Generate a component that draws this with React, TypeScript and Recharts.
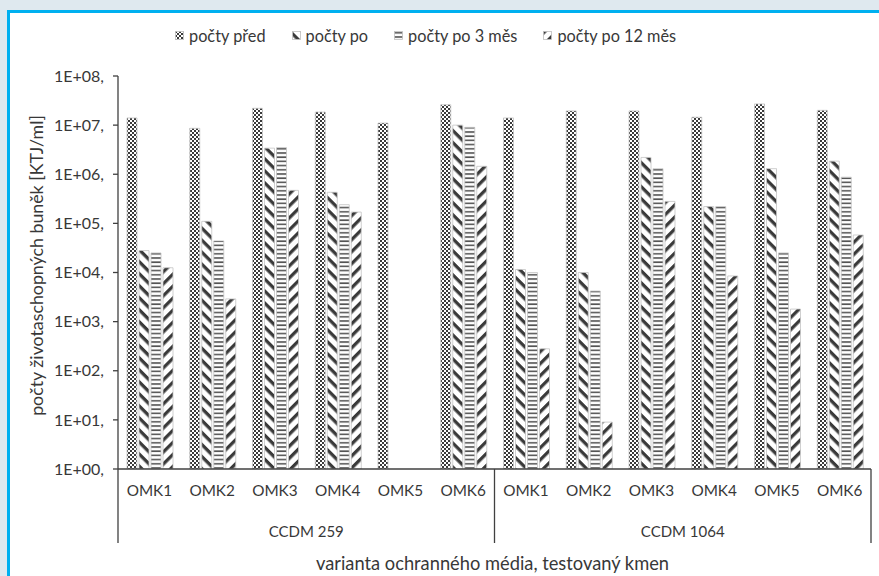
import React from 'react';
import { BarChart, Bar, XAxis, YAxis, Legend } from 'recharts';

// ---- data ----
const categories = ['OMK1', 'OMK2', 'OMK3', 'OMK4', 'OMK5', 'OMK6', 'OMK1', 'OMK2', 'OMK3', 'OMK4', 'OMK5', 'OMK6'];
const groups = ['CCDM 259', 'CCDM 259', 'CCDM 259', 'CCDM 259', 'CCDM 259', 'CCDM 259', 'CCDM 1064', 'CCDM 1064', 'CCDM 1064', 'CCDM 1064', 'CCDM 1064', 'CCDM 1064'];
const pocetPred = [1.4e7, 8.6e6, 2.2e7, 1.85e7, 1.1e7, 2.6e7, 1.4e7, 1.95e7, 1.95e7, 1.45e7, 2.7e7, 2.0e7];
const pocetPo = [2.8e4, 1.1e5, 3.4e6, 4.3e5, null, 1.0e7, 1.15e4, 1.0e4, 2.2e6, 2.2e5, 1.3e6, 1.85e6];
const pocetPo3 = [2.5e4, 4.4e4, 3.5e6, 2.4e5, null, 9.0e6, 1.0e4, 4.2e3, 1.3e6, 2.2e5, 2.5e4, 8.7e5];
const pocetPo12 = [1.25e4, 2.9e3, 4.7e5, 1.7e5, null, 1.45e6, 2.8e2, 9, 2.8e5, 8.5e3, 1.8e3, 5.8e4];
const yTicks = [1, 10, 100, 1e3, 1e4, 1e5, 1e6, 1e7, 1e8];
const yTickLabels = ['1E+00,', '1E+01,', '1E+02,', '1E+03,', '1E+04,', '1E+05,', '1E+06,', '1E+07,', '1E+08,'];
const seriesNames = ['počty před', 'počty po', 'počty po 3 měs', 'počty po 12 měs'];
const xTitle = 'varianta ochranného média, testovaný kmen';
const yTitle = 'počty životaschopných buněk [KTJ/ml]';

const rows = categories.map((c, i) => ({
  omk: c,
  group: groups[i],
  pred: pocetPred[i],
  po: pocetPo[i],
  po3: pocetPo3[i],
  po12: pocetPo12[i],
}));

const seriesKeys = ['pred', 'po', 'po3', 'po12'];
const patternIds = ['patChecker', 'patDown', 'patHoriz', 'patUp'];

// ---- layout ----
const W = 879;
const H = 576;
const MARGIN = { top: 76, right: 8, bottom: 0, left: 0 };
const Y_W = 118;
const X_H = 107;
const PLOT_W = W - MARGIN.left - MARGIN.right - Y_W;
const BAND = PLOT_W / categories.length;
const FONT = 'Lato, "Open Sans", sans-serif';
const TXT = '#383838';
const AXIS = '#404040';
const INK = '#3a3a3a';

const PatternDefs = () => (
  <defs>
    <pattern id="patChecker" patternUnits="userSpaceOnUse" width="4" height="4">
      <rect x="0" y="0" width="4" height="4" fill="#ffffff" />
      <rect x="0" y="0" width="2" height="2" fill={INK} />
      <rect x="2" y="2" width="2" height="2" fill={INK} />
    </pattern>
    <pattern id="patDown" patternUnits="userSpaceOnUse" width="8.5" height="8.5" patternTransform="rotate(45)">
      <rect x="0" y="0" width="8.5" height="8.5" fill="#ffffff" />
      <rect x="0" y="0" width="8.5" height="3.3" fill={INK} />
    </pattern>
    <pattern id="patHoriz" patternUnits="userSpaceOnUse" width="4" height="4.2">
      <rect x="0" y="0" width="4" height="4.2" fill="#ffffff" />
      <rect x="0" y="1" width="4" height="1.6" fill="#555555" />
    </pattern>
    <pattern id="patUp" patternUnits="userSpaceOnUse" width="8.5" height="8.5" patternTransform="rotate(-45)">
      <rect x="0" y="0" width="8.5" height="8.5" fill="#ffffff" />
      <rect x="0" y="0" width="8.5" height="3.3" fill={INK} />
    </pattern>
  </defs>
);

const CategoryTick = (props: any) => {
  const { x, y, payload, index } = props;
  const i = typeof index === 'number' ? index : payload.index;
  const half = BAND / 2;
  const lineProps = { stroke: AXIS, strokeWidth: 1.3 };
  return (
    <g>
      <text x={x} y={y + 21} textAnchor="middle" dominantBaseline="central" fill={TXT} fontSize={15.3} fontFamily={FONT}>
        {payload.value}
      </text>
      {i % 6 === 0 && <line x1={x - half} x2={x - half} y1={y} y2={y + 74} {...lineProps} />}
      {i === rows.length - 1 && <line x1={x + half} x2={x + half} y1={y} y2={y + 74} {...lineProps} />}
      {i % 6 === 2 && (
        <text x={x + half} y={y + 62} textAnchor="middle" dominantBaseline="central" fill={TXT} fontSize={15} fontFamily={FONT}>
          {rows[i].group}
        </text>
      )}
    </g>
  );
};

const LegendContent = () => (
  <div style={{ display: 'flex', alignItems: 'center', fontFamily: FONT, fontSize: 16.3, color: TXT, whiteSpace: 'nowrap' }}>
    {seriesNames.map((n, i) => (
      <div key={n} style={{ display: 'flex', alignItems: 'center', marginRight: 26 }}>
        <svg width={9} height={9} style={{ marginRight: 5 }}>
          <rect x={0.5} y={0.5} width={8} height={8} fill={`url(#${patternIds[i]})`} stroke="#bfbfbf" strokeWidth={0.8} />
        </svg>
        <span>{n}</span>
      </div>
    ))}
  </div>
);

export default function App() {
  return (
    <div style={{ position: 'absolute', left: 0, top: 0, width: W, height: H, background: '#dfe9ef', overflow: 'hidden' }}>
      <div
        style={{
          position: 'absolute',
          left: 7,
          top: 10,
          width: 920,
          height: 620,
          background: '#ffffff',
          borderLeft: '3px solid #00b0f0',
          borderTop: '3px solid #00b0f0',
        }}
      />
      <div style={{ position: 'absolute', left: 0, top: 0 }}>
        <BarChart width={W} height={H} data={rows} margin={MARGIN} barCategoryGap={9} barGap={2}>
          <PatternDefs />
          <Legend
            layout="horizontal"
            verticalAlign="middle"
            align="center"
            wrapperStyle={{ top: 26, left: 175, width: 'auto', height: 'auto' }}
            content={() => <LegendContent />}
          />
          <XAxis
            dataKey="omk"
            interval={0}
            height={X_H}
            tickLine={false}
            tickSize={0}
            tickMargin={0}
            axisLine={{ stroke: AXIS, strokeWidth: 1.3 }}
            tick={<CategoryTick />}
            label={{
              content: (p: any) => {
                const vb = p.viewBox;
                return (
                  <text x={vb.x + vb.width / 2 - 2} y={vb.y + 94} textAnchor="middle" dominantBaseline="central" fill={TXT} fontSize={18.3} fontFamily={FONT}>
                    {xTitle}
                  </text>
                );
              },
            }}
          />
          <YAxis
            scale="log"
            type="number"
            domain={[1, 1e8]}
            ticks={yTicks}
            allowDataOverflow
            width={Y_W}
            tickSize={5}
            tickMargin={9}
            tickLine={{ stroke: AXIS, strokeWidth: 1.3 }}
            axisLine={{ stroke: AXIS, strokeWidth: 1.3 }}
            tick={{ fill: TXT, fontSize: 16, fontFamily: FONT }}
            tickFormatter={(v: number) => yTickLabels[yTicks.indexOf(v)] ?? ''}
            label={{
              content: (p: any) => {
                const vb = p.viewBox;
                const cx = vb.x + 36;
                const cy = vb.y + vb.height / 2 - 7;
                return (
                  <text x={cx} y={cy} transform={`rotate(-90, ${cx}, ${cy})`} textAnchor="middle" dominantBaseline="central" fill={TXT} fontSize={17.8} fontFamily={FONT}>
                    {yTitle}
                  </text>
                );
              },
            }}
          />
          {seriesKeys.map((k, i) => (
            <Bar key={k} dataKey={k} name={seriesNames[i]} fill={`url(#${patternIds[i]})`} stroke="#c4c4c4" strokeWidth={0.8} isAnimationActive={false} />
          ))}
        </BarChart>
      </div>
    </div>
  );
}
